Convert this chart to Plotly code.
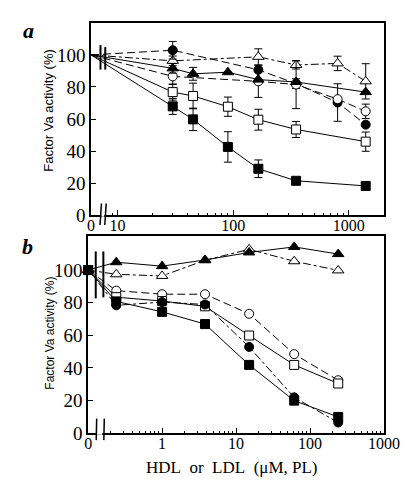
import plotly.graph_objects as go

W, H = 413, 492

# ---------------- Panel a data (HDL) ----------------
X_A = [0, 30, 45, 90, 165, 350, 800, 1400]
A_FSQ = [100, 67.9, 59.8, 42.6, 29.0, 21.5, None, 18.3]
A_FSQ_E = [0, 5, 7, 9.5, 5.5, 0, 0, 0]
A_OSQ = [100, 76.8, 74.4, 67.7, 59.6, 53.5, None, 45.9]
A_OSQ_E = [0, 5, 8, 6, 6.5, 5, 0, 6]
A_FTR = [100, 91.6, 88.2, 89.2, 84.6, 83.1, None, 76.8]
A_FTR_E = [0, 3, 4, 0, 0, 0, 0, 0]
A_OTR = [100, 96.3, None, None, 98.8, 93.7, 94.7, 83.5]
A_OTR_E = [0, 3, 0, 0, 5, 2.5, 4.5, 11]
A_FCI = [100, 102.9, None, None, 90.7, 82.1, 70.3, 56.5]
A_FCI_E = [0, 5.5, 0, 0, 0, 3, 11.7, 0]
A_OCI = [100, 86.6, None, None, 83.5, 81.5, 72.4, 64.8]
A_OCI_E = [0, 5, 0, 0, 10, 15, 0, 4.5]

# ---------------- Panel b data (LDL) ----------------
X_B = [0, 0.24, 1, 3.8, 15, 61, 240]
B_FTR = [100, 104.8, 102.4, 106.2, 110.8, 114.2, 109.8]
B_OTR = [100, 97.4, 96.4, 106.0, 112.7, 105.4, 99.8]
B_OCI = [100, 87.4, 85.2, 85.2, 73.2, 48.5, 32.5]
B_OSQ = [100, 83.4, 81.0, 77.8, 59.9, 41.9, 30.5]
B_FCI = [100, 78.4, 80.4, 78.9, 52.9, 22.0, 6.6]
B_FSQ = [100, 80.8, 74.4, 66.9, 41.9, 20.0, 10.0]

Y_TICKS = [0, 20, 40, 60, 80, 100]

# axis ranges (log10)
XA_RANGE = [0.77, 3.305]
XB_RANGE = [-1.0, 3.0]
XA_ZERO = 10 ** XA_RANGE[0]
XB_ZERO = 10 ** XB_RANGE[0]

def zx(xs, zero):
    return [zero if v == 0 else v for v in xs]

DASH = "8px,4px"
DASHDOT = "8px,3px,3px,3px"

def series(xs, ys, errs, symbol, filled, dash, xaxis, yaxis, size=9):
    mk = dict(symbol=symbol, size=size,
              color="black" if filled else "white",
              line=dict(color="black", width=1))
    tr = go.Scatter(x=xs, y=ys, mode="lines+markers", connectgaps=True,
                    line=dict(color="black", width=1, dash=dash),
                    marker=mk, xaxis=xaxis, yaxis=yaxis, cliponaxis=False,
                    showlegend=False)
    if errs is not None:
        tr.error_y = dict(type="data", array=errs, visible=True,
                          color="black", thickness=1, width=4)
    return tr

fig = go.Figure()
xa = zx(X_A, XA_ZERO)
xb = zx(X_B, XB_ZERO)

# panel a
fig.add_trace(series(xa, A_OTR, A_OTR_E, "triangle-up", False, DASHDOT, "x", "y", 10))
fig.add_trace(series(xa, A_FCI, A_FCI_E, "circle", True, DASH, "x", "y"))
fig.add_trace(series(xa, A_OCI, A_OCI_E, "circle", False, DASH, "x", "y"))
fig.add_trace(series(xa, A_FTR, A_FTR_E, "triangle-up", True, "solid", "x", "y", 10))
fig.add_trace(series(xa, A_OSQ, A_OSQ_E, "square", False, "solid", "x", "y"))
fig.add_trace(series(xa, A_FSQ, A_FSQ_E, "square", True, "solid", "x", "y"))

# panel b
fig.add_trace(series(xb, B_OTR, None, "triangle-up", False, DASHDOT, "x2", "y2", 10))
fig.add_trace(series(xb, B_FTR, None, "triangle-up", True, "solid", "x2", "y2", 10))
fig.add_trace(series(xb, B_OCI, None, "circle", False, DASH, "x2", "y2"))
fig.add_trace(series(xb, B_OSQ, None, "square", False, "solid", "x2", "y2"))
fig.add_trace(series(xb, B_FCI, None, "circle", True, DASHDOT, "x2", "y2"))
fig.add_trace(series(xb, B_FSQ, None, "square", True, "solid", "x2", "y2"))

SERIF = "Liberation Serif"
SANS = "Liberation Sans"

def minor_vals(decades, start):
    out = []
    for d in decades:
        for m in range(2, 10):
            v = m * 10 ** d
            if v >= start:
                out.append(v)
    return out

def px_dom(a, b, total, flip=False):
    if flip:
        return [1 - b / total, 1 - a / total]
    return [a / total, b / total]

common_x = dict(type="log", showline=True, linecolor="black", linewidth=1.5,
                mirror=True, ticks="inside", ticklen=6, tickwidth=1,
                tickcolor="black", showgrid=False, zeroline=False,
                tickfont=dict(family=SERIF, size=16, color="black"),
                tickmode="array", ticklabelstandoff=-5)
common_y = dict(showline=True, linecolor="black", linewidth=1.5, mirror=True,
                ticks="inside", ticklen=5, tickwidth=1, tickcolor="black",
                showgrid=False, zeroline=False, tickmode="array",
                tickvals=Y_TICKS, ticktext=[str(v) for v in Y_TICKS],
                tickfont=dict(family=SERIF, size=19, color="black"))

fig.update_layout(
    width=W, height=H, margin=dict(l=0, r=0, t=0, b=0),
    paper_bgcolor="white", plot_bgcolor="white", showlegend=False,
    xaxis=dict(common_x, domain=px_dom(83, 391, W), range=XA_RANGE, anchor="y",
               tickvals=[XA_ZERO, 10, 100, 1000], ticktext=["0", "10", "100", "1000"],
               minor=dict(ticks="inside", ticklen=3, tickwidth=1, tickcolor="black",
                          tickmode="array", tickvals=minor_vals([0, 1, 2], 9))),
    yaxis=dict(common_y, domain=px_dom(15, 212, H, True), range=[0, 120.1], anchor="x"),
    xaxis2=dict(common_x, domain=px_dom(80, 391, W), range=XB_RANGE, anchor="y2",
                tickvals=[XB_ZERO, 1, 10, 100, 1000], ticktext=["0", "1", "10", "100", "1000"],
                minor=dict(ticks="inside", ticklen=3, tickwidth=1, tickcolor="black",
                           tickmode="array", tickvals=minor_vals([-1, 0, 1, 2], 0.2))),
    yaxis2=dict(common_y, domain=px_dom(233, 435, H, True), range=[0, 121], anchor="x2"),
)

def P(x, y):
    return x / W, 1 - y / H

shapes = []
def seg(x0, y0, x1, y1, w=1.5):
    a = P(x0, y0); b = P(x1, y1)
    shapes.append(dict(type="line", xref="paper", yref="paper",
                       x0=a[0], y0=a[1], x1=b[0], y1=b[1],
                       line=dict(color="black", width=w)))

def gap(x0, x1, y):
    a = P(x0, y - 1.5); b = P(x1, y + 1.5)
    shapes.append(dict(type="rect", xref="paper", yref="paper",
                       x0=a[0], y0=a[1], x1=b[0], y1=b[1],
                       fillcolor="white", line=dict(width=0)))

# panel a breaks
seg(93, 38, 93, 63, 2)
seg(98, 40, 98, 63, 2)
gap(94, 97, 212)
seg(92.5, 222, 94, 200, 1.5)
seg(97.5, 222, 99, 200, 1.5)
# panel b breaks
seg(88, 249, 88, 297, 2)
seg(96, 249, 96, 296, 2)
gap(89, 95, 435)
seg(88.5, 442, 89, 420, 1.5)
seg(96.5, 442, 97, 420, 1.5)
fig.update_layout(shapes=shapes)

ann = []
def text(x, y, s, size, family, angle=0, bold=False, italic=False):
    if bold:
        s = "<b>" + s + "</b>"
    if italic:
        s = "<i>" + s + "</i>"
    a = P(x, y)
    ann.append(dict(x=a[0], y=a[1], xref="paper", yref="paper", text=s,
                    showarrow=False, textangle=angle, xanchor="center",
                    yanchor="middle", font=dict(family=family, size=size, color="black")))

text(17, 23, "a", 22, SERIF, bold=True, italic=True)
text(16, 244, "b", 22, SERIF, bold=True, italic=True)
text(39, 105, "Factor Va activity (%)", 13, SANS, angle=-90)
text(39, 333, "Factor Va activity (%)", 12, SANS, angle=-90)
text(231, 470, "HDL\u00a0\u00a0or\u00a0\u00a0LDL\u00a0\u00a0(\u03bcM, PL)", 17, SERIF)
fig.update_layout(annotations=ann)

fig.write_html("out.html")
